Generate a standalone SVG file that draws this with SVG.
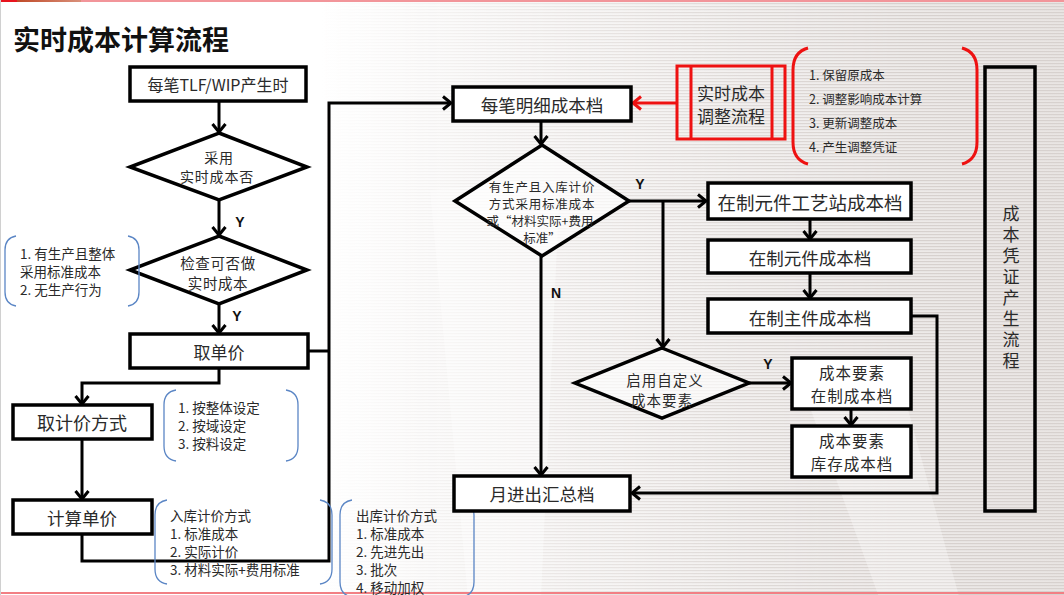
<svg xmlns="http://www.w3.org/2000/svg" width="1064" height="595" viewBox="0 0 1064 595">
<defs>
<style>
text{font-family:"Noto Sans CJK SC","Liberation Sans",sans-serif;fill:#2a2a2a;}
.t{dominant-baseline:central;text-anchor:middle;}
.n{dominant-baseline:central;font-size:13.5px;}
.r{dominant-baseline:central;font-size:12.5px;}
.yl{font-family:"Liberation Sans",Arial,sans-serif;font-weight:bold;font-size:14px;fill:#111;dominant-baseline:central;text-anchor:middle;}
.box{fill:#fff;stroke:#000;stroke-width:3.5;}
.dia{fill:#fff;fill-opacity:0.6;stroke:#000;stroke-width:3.5;stroke-linejoin:miter;}
.con{fill:none;stroke:#000;stroke-width:3;}
.arr{fill:none;stroke:#000;stroke-width:3;marker-end:url(#ah);}
.brk{fill:none;stroke:#5b86c5;stroke-width:1.3;}
.rbrk{fill:none;stroke:#ee1111;stroke-width:3;}
</style>
<marker id="ah" markerUnits="userSpaceOnUse" markerWidth="18" markerHeight="18" refX="11" refY="9" orient="auto">
<path d="M3,2.5 L11,9 L3,15.5" fill="none" stroke="#000" stroke-width="3"/>
</marker>
<marker id="ahr" markerUnits="userSpaceOnUse" markerWidth="18" markerHeight="18" refX="11" refY="9" orient="auto">
<path d="M3,2.5 L11,9 L3,15.5" fill="none" stroke="#ee1111" stroke-width="3"/>
</marker>
<linearGradient id="bg" x1="0" y1="0" x2="1" y2="0">
<stop offset="0" stop-color="#ffffff"/>
<stop offset="0.3" stop-color="#ffffff"/>
<stop offset="1" stop-color="#e9e5e3"/>
</linearGradient>
<linearGradient id="fade" x1="0" y1="0" x2="1" y2="0">
<stop offset="0.3" stop-color="#fff" stop-opacity="0"/>
<stop offset="0.85" stop-color="#fff" stop-opacity="1"/>
</linearGradient>
<mask id="sm"><rect x="0" y="0" width="1064" height="595" fill="url(#fade)"/></mask>
<pattern id="stripes" width="8" height="3" patternUnits="userSpaceOnUse">
<rect x="0" y="0" width="8" height="1.2" fill="#d7d1ce"/>
</pattern>
<linearGradient id="topg" x1="0" y1="0" x2="1" y2="0">
<stop offset="0" stop-color="#c04a28"/>
<stop offset="1" stop-color="#d9907a"/>
</linearGradient>
</defs>

<!-- background -->
<rect x="0" y="0" width="1064" height="595" fill="url(#bg)"/>
<rect x="0" y="0" width="1064" height="595" fill="url(#stripes)" mask="url(#sm)"/>
<path d="M430,190 L560,180 L540,620 L470,620 Z" fill="#fff" fill-opacity="0.35"/>
<path d="M800,380 L900,380 L960,600 L880,600 Z" fill="#fff" fill-opacity="0.3"/>
<rect x="0" y="0" width="1064" height="2" fill="#f2959a"/>
<rect x="0" y="0" width="17" height="2" fill="#e8141e"/>
<rect x="17" y="0" width="64" height="2" fill="url(#topg)"/>
<rect x="0" y="592" width="1064" height="2" fill="#f27f84"/>
<rect x="0" y="0" width="1" height="595" fill="#d0d0d0"/>

<!-- title -->
<text x="13" y="50" font-size="27" font-weight="bold" style="fill:#111">实时成本计算流程</text>

<!-- connectors -->
<g id="connectors">
<path class="arr" d="M219,101 V132"/>
<path class="arr" d="M219,200 V235"/>
<path class="arr" d="M219,304 V333"/>
<path class="arr" d="M219,368 V383 H82 V404"/>
<path class="arr" d="M82,439 V499"/>
<path class="arr" d="M82,534 V561 H329 V103 H451"/>
<path class="con" d="M308,351 H329"/>
<path d="M677,103 H633" fill="none" stroke="#ee1111" stroke-width="3" marker-end="url(#ahr)"/>
<path class="arr" d="M541,121 V144"/>
<path class="arr" d="M629,201 H706"/>
<path class="arr" d="M663,201 V347"/>
<path class="arr" d="M541,256 V475"/>
<path class="arr" d="M810,219 V239"/>
<path class="arr" d="M810,273 V298"/>
<path class="arr" d="M911,316 H937 V493 H632"/>
<path class="arr" d="M749,383 H791"/>
<path class="arr" d="M851,409 V425"/>
<text class="yl" x="240" y="222">Y</text>
<text class="yl" x="237" y="316">Y</text>
<text class="yl" x="640" y="184">Y</text>
<text class="yl" x="556" y="293">N</text>
<text class="yl" x="768" y="364">Y</text>
</g>

<!-- left column -->
<g id="n-start">
<rect class="box" x="130" y="67" width="176" height="34"/>
<text class="t" x="218" y="84" font-size="16">每笔TLF/WIP产生时</text>
</g>
<g id="n-d1">
<polygon class="dia" points="219,133 307,167 219,200 130,167"/>
<text class="t" font-size="14" letter-spacing="0.8"><tspan x="219" y="157">采用</tspan><tspan x="217" y="176">实时成本否</tspan></text>
</g>
<g id="n-d2">
<polygon class="dia" points="219,236 307,270 219,304 130,270"/>
<text class="t" font-size="14.5" letter-spacing="0.6"><tspan x="218" y="262">检查可否做</tspan><tspan x="218" y="281.5">实时成本</tspan></text>
</g>
<g id="n-note1">
<path class="brk" d="M16,236 Q5,238 5,250 V292 Q5,304 16,306"/>
<path class="brk" d="M128,236 Q139,238 139,250 V292 Q139,304 128,306"/>
<text class="n"><tspan x="20" y="253">1. 有生产且整体</tspan><tspan x="20" y="271">采用标准成本</tspan><tspan x="20" y="289">2. 无生产行为</tspan></text>
</g>
<g id="n-price">
<rect class="box" x="130" y="334" width="178" height="34"/>
<text class="t" x="219" y="351" font-size="17">取单价</text>
</g>
<g id="n-method">
<rect class="box" x="13" y="405" width="139" height="34"/>
<text class="t" x="82" y="422" font-size="18">取计价方式</text>
</g>
<g id="n-note2">
<path class="brk" d="M176,390 Q164,392 164,405 V446 Q164,459 176,461"/>
<path class="brk" d="M286,390 Q298,392 298,405 V446 Q298,459 286,461"/>
<text class="n"><tspan x="178" y="407">1. 按整体设定</tspan><tspan x="178" y="425">2. 按域设定</tspan><tspan x="178" y="443">3. 按料设定</tspan></text>
</g>
<g id="n-calc">
<rect class="box" x="13" y="500" width="139" height="34"/>
<text class="t" x="82" y="517" font-size="17.5">计算单价</text>
</g>
<g id="n-note3">
<path class="brk" d="M167,500 Q155,502 155,515 V569 Q155,582 167,584"/>
<path class="brk" d="M320,500 Q332,502 332,515 V569 Q332,582 320,584"/>
<text class="n"><tspan x="170" y="515">入库计价方式</tspan><tspan x="170" y="533">1. 标准成本</tspan><tspan x="170" y="551">2. 实际计价</tspan><tspan x="170" y="569">3. 材料实际+费用标准</tspan></text>
</g>
<g id="n-note4">
<path class="brk" d="M352,500 Q340,502 340,515 V582 Q340,595 352,597"/>
<path class="brk" d="M462,500 Q474,502 474,515 V582 Q474,595 462,597"/>
<text class="n"><tspan x="356" y="515">出库计价方式</tspan><tspan x="356" y="533">1. 标准成本</tspan><tspan x="356" y="551">2. 先进先出</tspan><tspan x="356" y="569">3. 批次</tspan><tspan x="356" y="587">4. 移动加权</tspan></text>
</g>

<!-- right area -->
<g id="n-detail">
<rect class="box" x="453" y="87" width="178" height="34"/>
<text class="t" x="542" y="104" font-size="17.5">每笔明细成本档</text>
</g>
<g id="n-adjust">
<rect x="677" y="66" width="108" height="73" fill="none" stroke="#ee1111" stroke-width="3"/>
<line x1="691" y1="66" x2="691" y2="139" stroke="#ee1111" stroke-width="3"/>
<line x1="772" y1="66" x2="772" y2="139" stroke="#ee1111" stroke-width="3"/>
<text class="t" font-size="17"><tspan x="731" y="92">实时成本</tspan><tspan x="731" y="115">调整流程</tspan></text>
</g>
<g id="n-adjnote">
<path class="rbrk" d="M808,48 Q793,52 793,70 V142 Q793,160 808,164"/>
<path class="rbrk" d="M962,48 Q977,52 977,70 V142 Q977,160 962,164"/>
<text class="r"><tspan x="809" y="74">1. 保留原成本</tspan><tspan x="809" y="98">2. 调整影响成本计算</tspan><tspan x="809" y="122">3. 更新调整成本</tspan><tspan x="809" y="146">4. 产生调整凭证</tspan></text>
</g>
<g id="n-voucher">
<rect x="985" y="67" width="50" height="444" fill="none" stroke="#000" stroke-width="3.5"/>
<text x="1011" y="289" font-size="17" writing-mode="vertical-rl" text-anchor="middle" letter-spacing="4">成本凭证产生流程</text>
</g>
<g id="n-d3">
<polygon class="dia" points="542,145 629,201 542,256 455,201"/>
<text class="t" font-size="12.5"><tspan x="542" y="186" letter-spacing="0.8">有生产且入库计价</tspan><tspan x="542" y="203" letter-spacing="0.8">方式采用标准成本</tspan><tspan x="540" y="220" letter-spacing="0">或“材料实际+费用</tspan><tspan x="542" y="237">标准”</tspan></text>
</g>
<g id="n-wipstation">
<rect class="box" x="708" y="183" width="203" height="36"/>
<text class="t" x="810" y="202" font-size="18.5">在制元件工艺站成本档</text>
</g>
<g id="n-wipcomp">
<rect class="box" x="708" y="240" width="203" height="33"/>
<text class="t" x="810" y="257" font-size="17.5">在制元件成本档</text>
</g>
<g id="n-wipmain">
<rect class="box" x="708" y="299" width="203" height="34"/>
<text class="t" x="810" y="317" font-size="17.5">在制主件成本档</text>
</g>
<g id="n-d4">
<polygon class="dia" points="662,348 749,383 662,418 575,383"/>
<text class="t" font-size="14.5" letter-spacing="1"><tspan x="665" y="379">启用自定义</tspan><tspan x="662" y="398.5">成本要素</tspan></text>
</g>
<g id="n-elemwip">
<rect class="box" x="792" y="358" width="119" height="51"/>
<text class="t" font-size="15.5" letter-spacing="1"><tspan x="852" y="372">成本要素</tspan><tspan x="852" y="394.5">在制成本档</tspan></text>
</g>
<g id="n-eleminv">
<rect class="box" x="792" y="426" width="119" height="51"/>
<text class="t" font-size="15.5" letter-spacing="1"><tspan x="852" y="440">成本要素</tspan><tspan x="852" y="462.5">库存成本档</tspan></text>
</g>
<g id="n-monthly">
<rect class="box" x="454" y="476" width="176" height="35"/>
<text class="t" x="542" y="493" font-size="17.5">月进出汇总档</text>
</g>
</svg>
